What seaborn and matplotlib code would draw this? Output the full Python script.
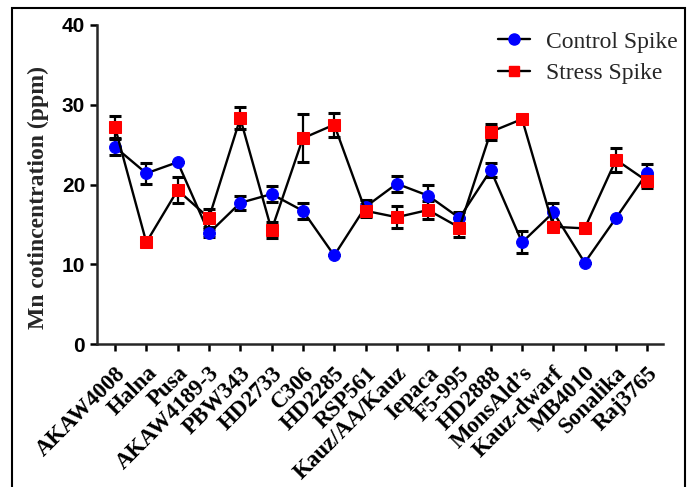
import numpy as np
import pandas as pd
import matplotlib
matplotlib.use("Agg")
import matplotlib.pyplot as plt
from matplotlib.patches import Rectangle
from matplotlib.lines import Line2D
import seaborn as sns

varieties = ["AKAW4008", "Halna", "Pusa", "AKAW4189-3", "PBW343", "HD2733", "C306",
             "HD2285", "RSP561", "Kauz/AA/Kauz", "Iepaca", "F5-995", "HD2888",
             "MonsAld\u2019s", "Kauz-dwarf", "MB4010", "Sonalika", "Raj3765"]
control = [24.7, 21.4, 22.8, 13.9, 17.7, 18.8, 16.7, 11.1, 17.2, 20.1, 18.6, 15.8,
           21.8, 12.75, 16.5, 10.2, 15.8, 21.5]
control_err = [1.0, 1.3, 0.0, 0.5, 0.9, 1.0, 1.0, 0.0, 0.8, 1.0, 1.4, 0.8,
               0.9, 1.4, 1.2, 0.0, 0.0, 1.1]
stress = [27.2, 12.75, 19.3, 15.8, 28.3, 14.3, 25.8, 27.5, 16.7, 15.9, 16.8, 14.6,
          26.6, 28.2, 14.7, 14.5, 23.1, 20.4]
stress_err = [1.4, 0.0, 1.6, 1.1, 1.4, 1.0, 3.0, 1.5, 0.8, 1.4, 1.1, 1.2,
              1.0, 0.0, 0.0, 0.0, 1.5, 0.8]

pos = np.arange(len(varieties))
df = pd.DataFrame({
    "pos": np.concatenate([pos, pos]),
    "mn": control + stress,
    "err": control_err + stress_err,
    "group": ["Control Spike"] * len(pos) + ["Stress Spike"] * len(pos),
})

sns.set_style("ticks")
plt.rcParams['font.family'] = ['Liberation Serif', 'DejaVu Serif']

fig = plt.figure(figsize=(6.93, 4.87), dpi=100)
ax = fig.add_axes([97/693, 143/487, 566/693, 319/487])

styles = {"Control Spike": ("o", "#0000ff", 8.5), "Stress Spike": ("s", "#ff0000", 8)}
for g, (mk, col, ms) in styles.items():
    d = df[df.group == g]
    ax.errorbar(d.pos, d.mn, yerr=d.err, fmt="none", ecolor="black",
                elinewidth=1.6, capsize=4.6, capthick=2.2, zorder=2)
    sns.lineplot(data=d, x="pos", y="mn", color="black", lw=1.7, marker=mk,
                 markerfacecolor=col, markeredgecolor=col, markersize=ms,
                 estimator=None, errorbar=None, ax=ax, zorder=3, legend=False)

ax.set_xlim(-0.575, 17.5)
ax.set_ylim(0, 40)
ax.set_yticks([0, 10, 20, 30, 40])
ax.set_xticks(pos)
ax.set_xticklabels(varieties, rotation=45, ha="right", rotation_mode="anchor",
                   fontsize=16.5, fontweight="bold", family="Liberation Serif")
for t in ax.get_yticklabels():
    t.set_family("Liberation Sans")
    t.set_fontweight("bold")
    t.set_fontsize(15)
ax.set_xlabel("")
ax.set_ylabel("Mn cotincentration (ppm)", fontsize=17, fontweight="bold",
              family="Liberation Serif")
ax.yaxis.set_label_coords(-0.085, 0.46)

for s in ["top", "right"]:
    ax.spines[s].set_visible(False)
for s in ["left", "bottom"]:
    ax.spines[s].set_linewidth(1.8)
ax.tick_params(direction="out", length=5, width=1.8, colors="black")
ax.tick_params(axis="x", pad=8.5)

handles = [Line2D([], [], color="black", lw=1.7, marker=styles[g][0],
                  markerfacecolor=styles[g][1], markeredgecolor=styles[g][1],
                  markersize=styles[g][2] - 0.5) for g in styles]
fig.legend(handles, list(styles), loc="upper right",
           bbox_to_anchor=(678/693, 1 - 31/487), frameon=False,
           prop={"family": "Liberation Serif", "size": 17},
           handlelength=1.35, handletextpad=0.7, labelspacing=0.42,
           borderpad=0, borderaxespad=0)

fig.patches.append(Rectangle((12/693, -0.01), (685-12)/693, 1.01 - 8/487,
                             transform=fig.transFigure, fill=False,
                             edgecolor="black", lw=1.5))

fig.savefig("out.png", dpi=100)
